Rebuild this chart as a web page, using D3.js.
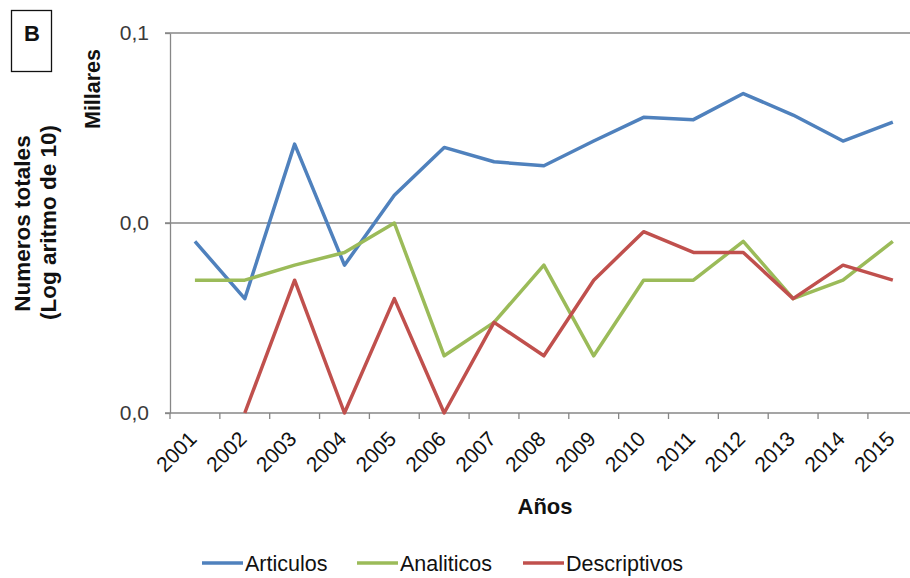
<!DOCTYPE html>
<html>
<head>
<meta charset="utf-8">
<script src="https://cdn.jsdelivr.net/npm/d3@7"></script>
<style>
  html, body { margin: 0; padding: 0; background: #fff; }
  svg { display: block; font-family: "Liberation Sans", Arial, sans-serif; }
</style>
</head>
<body>
<svg id="chart" width="910" height="578"></svg>
<script>
// Publication counts per year (plotted in thousands on a log10 axis)
const years = ["2001","2002","2003","2004","2005","2006","2007","2008","2009","2010","2011","2012","2013","2014","2015"];
const articulos    = [8, 4, 26, 6, 14, 25, 21, 20, 27, 36, 35, 48, 37, 27, 34];
const analiticos   = [5, 5, 6, 7, 10, 2, 3, 6, 2, 5, 5, 8, 4, 5, 8];
const descriptivos = [null, 1, 5, 1, 4, 1, 3, 2, 5, 9, 7, 7, 4, 6, 5];
const yTicks = [0.001, 0.01, 0.1];
const yTickLabels = ["0,0", "0,0", "0,1"];

const seriesList = [
  { name: "Articulos",    values: articulos,    color: "#4F81BD" },
  { name: "Analiticos",   values: analiticos,   color: "#9BBB59" },
  { name: "Descriptivos", values: descriptivos, color: "#C0504D" }
];

const svg = d3.select("#chart");
const plotLeft = 170, plotTop = 33, plotBottom = 413;
const band = 49.85;
const plotRight = plotLeft + band * years.length;
const axisColor = "#878787";
const textColor = "#111";

const x = d3.scaleBand().domain(years).range([plotLeft, plotRight]).paddingInner(0).paddingOuter(0);
const y = d3.scaleLog().domain([0.001, 0.1]).range([plotBottom, plotTop]);

// Horizontal gridlines
svg.append("g")
  .selectAll("line")
  .data(yTicks.slice(1))
  .join("line")
  .attr("x1", plotLeft - 5).attr("x2", plotRight)
  .attr("y1", d => y(d)).attr("y2", d => y(d))
  .attr("stroke", axisColor).attr("stroke-width", 1.3);

// Y axis
const yAxis = svg.append("g")
  .attr("transform", `translate(${plotLeft},0)`)
  .call(d3.axisLeft(y).tickValues(yTicks).tickSize(5).tickSizeOuter(0)
    .tickFormat((d, i) => yTickLabels[i]));
yAxis.select(".domain").attr("stroke", axisColor).attr("stroke-width", 1.3);
yAxis.selectAll(".tick line").attr("stroke", axisColor).attr("stroke-width", 1.3);
yAxis.selectAll(".tick text")
  .attr("x", -21).attr("font-size", 21).attr("fill", "#3a3a3a")
  .attr("font-family", "Liberation Sans, Arial, sans-serif");

// X axis: ticks sit on the category boundaries
const xAxisG = svg.append("g").attr("transform", `translate(0,${plotBottom})`);
xAxisG.append("line")
  .attr("x1", plotLeft - 5).attr("x2", plotRight)
  .attr("y1", 0).attr("y2", 0)
  .attr("stroke", axisColor).attr("stroke-width", 1.3);
xAxisG.selectAll("line.tk")
  .data(years)
  .join("line")
  .attr("class", "tk")
  .attr("x1", d => x(d)).attr("x2", d => x(d))
  .attr("y1", 0).attr("y2", 6)
  .attr("stroke", axisColor).attr("stroke-width", 1.3);
xAxisG.selectAll("text")
  .data(years)
  .join("text")
  .attr("transform", d => `translate(${x(d) + x.bandwidth() / 2 - 2},${22}) rotate(-45)`)
  .attr("text-anchor", "end")
  .attr("dy", "0.35em")
  .attr("font-size", 21)
  .attr("fill", textColor)
  .text(d => d);

// Series lines
const line = d3.line()
  .defined(d => d.v != null)
  .x(d => x(d.year) + x.bandwidth() / 2)
  .y(d => y(d.v / 1000));

svg.append("g")
  .selectAll("path")
  .data(seriesList)
  .join("path")
  .attr("fill", "none")
  .attr("stroke", s => s.color)
  .attr("stroke-width", 3.5)
  .attr("stroke-linejoin", "round")
  .attr("d", s => line(years.map((yr, i) => ({ year: yr, v: s.values[i] }))));

// Axis titles
svg.append("text")
  .attr("x", 545).attr("y", 514)
  .attr("text-anchor", "middle")
  .attr("font-size", 22).attr("font-weight", "bold").attr("fill", textColor)
  .text("Años");

svg.append("text")
  .attr("transform", "translate(30,223.5) rotate(-90)")
  .attr("text-anchor", "middle")
  .attr("font-size", 22.5).attr("font-weight", "bold").attr("fill", textColor)
  .text("Numeros totales");
svg.append("text")
  .attr("transform", "translate(56,222.5) rotate(-90)")
  .attr("text-anchor", "middle")
  .attr("font-size", 22.5).attr("font-weight", "bold").attr("fill", textColor)
  .text("(Log aritmo de 10)");

svg.append("text")
  .attr("transform", "translate(100,89) rotate(-90)")
  .attr("text-anchor", "middle")
  .attr("font-size", 21.5).attr("font-weight", "bold").attr("fill", textColor)
  .text("Millares");

// Panel label
svg.append("rect")
  .attr("x", 11.5).attr("y", 10.5).attr("width", 40).attr("height", 61)
  .attr("fill", "#fff").attr("stroke", textColor).attr("stroke-width", 1.3);
svg.append("text")
  .attr("x", 32).attr("y", 41)
  .attr("text-anchor", "middle")
  .attr("font-size", 22).attr("font-weight", "bold").attr("fill", textColor)
  .text("B");

// Legend
const legendX = [202, 357, 523];
const legend = svg.append("g")
  .selectAll("g")
  .data(seriesList)
  .join("g")
  .attr("transform", (d, i) => `translate(${legendX[i]},563)`);
legend.append("line")
  .attr("x1", 0).attr("x2", 41).attr("y1", 0).attr("y2", 0)
  .attr("stroke", d => d.color).attr("stroke-width", 3.5);
legend.append("text")
  .attr("x", 43).attr("y", 0).attr("dy", "0.35em")
  .attr("font-size", 21.5).attr("fill", textColor)
  .text(d => d.name);
</script>
</body>
</html>
